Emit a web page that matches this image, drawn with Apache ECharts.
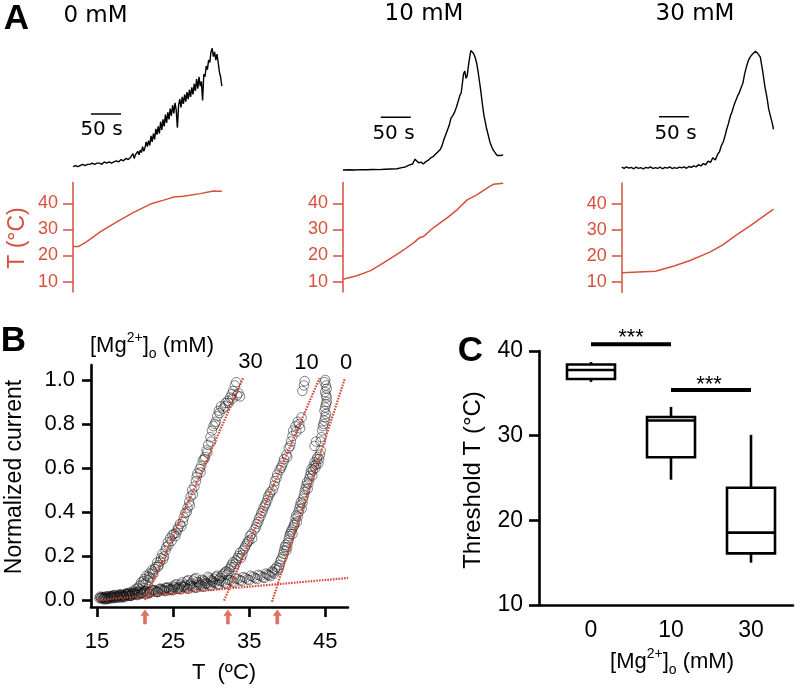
<!DOCTYPE html>
<html><head><meta charset="utf-8">
<script src="https://cdn.jsdelivr.net/npm/echarts@6/dist/echarts.min.js"></script>
<style>html,body{margin:0;padding:0;background:#fff}#c{width:800px;height:690px}</style>
</head><body><div id="c"></div>
<script>
// ---------------- DATA ----------------
// Panel A: current traces (normalized), [time s, value]
const trace0mM = [[0,0.00],[4,0.01],[8,0.00],[12,0.01],[16,0.02],[20,0.01],[24,0.02],[28,0.02],[32,0.03],[36,0.02],[40,0.03],[44,0.03],[48,0.02],[52,0.04],[56,0.03],[60,0.04],[64,0.03],[68,0.04],[72,0.05],[76,0.04],[80,0.06],[84,0.05],[88,0.07],[92,0.06],[96,0.08],[100,0.11],[102,0.07],[104,0.10],[106,0.09],[108,0.13],[110,0.10],[112,0.14],[114,0.12],[116,0.17],[118,0.13],[120,0.16],[122,0.21],[124,0.17],[126,0.22],[128,0.18],[130,0.26],[132,0.21],[134,0.28],[136,0.23],[138,0.32],[140,0.27],[142,0.34],[144,0.28],[146,0.38],[148,0.31],[150,0.40],[152,0.34],[154,0.44],[156,0.37],[158,0.46],[160,0.40],[162,0.49],[164,0.43],[166,0.52],[168,0.45],[170,0.54],[172,0.48],[174,0.33],[176,0.52],[178,0.57],[180,0.50],[182,0.59],[184,0.53],[186,0.61],[188,0.55],[190,0.63],[192,0.57],[194,0.65],[196,0.59],[198,0.67],[200,0.61],[202,0.70],[204,0.64],[206,0.74],[208,0.66],[210,0.76],[212,0.68],[214,0.72],[216,0.56],[218,0.78],[220,0.76],[222,0.85],[224,0.82],[226,0.90],[228,0.88],[230,0.97],[232,1.00],[234,0.93],[236,0.97],[238,0.90],[240,0.95],[242,0.88],[244,0.80],[246,0.76],[248,0.68]];
const trace10mM = [[0,0.0],[10,0.002],[20,0.0],[30,0.003],[40,0.002],[50,0.004],[60,0.003],[70,0.006],[80,0.008],[90,0.01],[98,0.02],[104,0.025],[110,0.04],[116,0.05],[120,0.09],[123,0.10],[126,0.06],[130,0.065],[134,0.05],[138,0.07],[142,0.08],[146,0.10],[150,0.11],[154,0.13],[158,0.15],[162,0.17],[165,0.20],[168,0.25],[171,0.29],[174,0.33],[177,0.37],[180,0.43],[183,0.45],[186,0.48],[189,0.52],[192,0.57],[195,0.62],[197,0.64],[199,0.72],[201,0.80],[203,0.82],[205,0.76],[207,0.78],[209,0.86],[211,0.93],[213,0.99],[215,1.00],[217,0.97],[219,0.95],[221,0.92],[223,0.88],[225,0.82],[227,0.75],[229,0.68],[231,0.60],[233,0.52],[235,0.45],[237,0.40],[239,0.35],[242,0.29],[245,0.23],[248,0.19],[251,0.16],[254,0.14],[257,0.12],[260,0.115],[263,0.12],[267,0.125]];
const trace30mM = [[0,0.01],[4,0.0],[8,0.012],[12,0.002],[16,0.008],[20,-0.004],[24,0.01],[28,0.0],[32,0.006],[36,-0.006],[40,0.008],[44,0.002],[48,0.012],[52,-0.002],[56,0.006],[60,0.0],[64,0.01],[68,-0.004],[72,0.008],[76,0.002],[80,0.012],[84,-0.002],[88,0.006],[92,0.0],[96,0.01],[100,0.004],[104,0.012],[108,0.0],[112,0.015],[116,0.008],[120,0.02],[124,0.012],[128,0.03],[132,0.02],[136,0.04],[140,0.03],[144,0.06],[148,0.05],[152,0.09],[156,0.07],[160,0.12],[163,0.14],[166,0.19],[169,0.22],[172,0.27],[175,0.33],[178,0.38],[181,0.44],[184,0.48],[187,0.53],[190,0.57],[193,0.61],[196,0.64],[199,0.68],[202,0.72],[205,0.80],[208,0.86],[211,0.91],[214,0.94],[217,0.96],[220,0.97],[223,0.99],[225,1.00],[227,0.97],[229,0.98],[231,0.94],[233,0.88],[235,0.82],[237,0.75],[239,0.68],[241,0.63],[243,0.57],[245,0.50],[247,0.46],[249,0.42],[251,0.38],[253,0.33]];
// Panel A: temperature traces, [time s, °C]
const temp0mM = [[0,23.4],[9,23.4],[23,25.3],[46,29.1],[73,32.9],[101,36.5],[129,39.7],[157,41.6],[168,42.4],[184,42.7],[212,43.7],[234,44.7],[240,44.6],[248,44.6]];
const temp10mM = [[0,10.9],[23,12.2],[46,14.2],[62,16.4],[84,19.6],[101,22.1],[118,24.9],[129,27.0],[134,27.2],[151,30.7],[173,34.3],[190,37.5],[207,41.3],[223,43.2],[240,45.8],[251,47.3],[267,47.7]];
const temp30mM = [[0,13.6],[56,14.2],[86,16.1],[114,18.3],[147,21.5],[169,24.4],[192,28.2],[214,31.6],[236,35.2],[253,38.0]];
const panelTitles = ['0 mM','10 mM','30 mM'];
const timeMax = [248, 267, 253];
const scaleBarStart = [30, 63, 62];   // s, 50 s bars
const scaleBarLevel = [0.445, 0.437, 0.436];
const tempTicks = [10, 20, 30, 40];

// Panel B: normalized current vs T, [°C, value]
const pts30 = [[15.3,0.008],[15.6,0.012],[15.8,0.004],[16.1,0.010],[16.4,0.016],[16.6,0.006],[16.9,0.014],[17.2,0.020],[17.4,0.011],[17.7,0.018],[18.0,0.026],[18.2,0.015],[18.5,0.022],[18.8,0.030],[19.0,0.019],[19.3,0.034],[19.6,0.028],[19.8,0.042],[20.1,0.050],[20.3,0.038],[20.6,0.065],[20.8,0.080],[21.0,0.070],[21.2,0.095],[21.5,0.110],[21.7,0.090],[21.9,0.120],[22.2,0.135],[22.4,0.118],[22.7,0.150],[22.9,0.170],[23.1,0.158],[23.4,0.190],[23.6,0.210],[23.8,0.198],[24.1,0.240],[24.3,0.262],[24.6,0.280],[24.8,0.268],[25.1,0.300],[25.3,0.290],[25.6,0.320],[25.9,0.345],[26.1,0.335],[26.4,0.375],[26.6,0.395],[26.9,0.420],[27.1,0.445],[27.3,0.470],[27.5,0.500],[27.8,0.515],[28.0,0.540],[28.2,0.575],[28.5,0.595],[28.7,0.610],[28.9,0.635],[29.2,0.650],[29.4,0.680],[29.6,0.705],[29.9,0.740],[30.1,0.770],[30.3,0.790],[30.6,0.810],[30.8,0.835],[31.0,0.860],[31.3,0.880],[31.6,0.870],[31.9,0.895],[32.2,0.905],[32.5,0.920],[32.7,0.935],[32.9,0.950],[33.1,0.975],[33.3,0.990],[33.6,0.940],[33.8,0.925],
  [15.4,0.015],[15.9,0.010],[16.2,0.003],[16.8,0.012],[17.1,0.008],[17.6,0.016],[17.9,0.010],[18.3,0.020],[18.6,0.012],[18.9,0.024],[19.2,0.030],[19.5,0.020],[19.9,0.035],[20.4,0.055],[20.7,0.048],[21.1,0.085],[21.4,0.075],[21.8,0.105],[22.0,0.100],[22.3,0.125],[22.6,0.140],[23.0,0.150],[23.3,0.175],[23.7,0.185],[24.0,0.225],[24.4,0.250],[24.9,0.295],[25.4,0.305],[25.7,0.330],[26.3,0.355],[26.8,0.400],[27.2,0.430],[27.6,0.480],[28.1,0.560],[28.6,0.580],[29.1,0.640],[29.5,0.670],[30.0,0.720],[30.5,0.800],[31.1,0.850],[31.8,0.880],[32.3,0.895],[32.8,0.915],[33.4,0.930]];
const pts10 = [[16.0,0.012],[16.5,0.008],[17.0,0.018],[17.5,0.014],[18.0,0.022],[18.5,0.017],[19.0,0.025],[19.5,0.020],[20.0,0.030],[20.5,0.026],[21.0,0.034],[21.5,0.028],[22.0,0.038],[22.5,0.045],[23.0,0.036],[23.5,0.048],[24.0,0.055],[24.5,0.044],[25.0,0.060],[25.4,0.072],[25.8,0.058],[26.2,0.080],[26.6,0.068],[27.0,0.090],[27.4,0.075],[27.8,0.095],[28.2,0.082],[28.6,0.070],[29.0,0.088],[29.4,0.076],[29.8,0.098],[30.2,0.085],[30.6,0.105],[31.0,0.092],[31.4,0.110],[31.8,0.125],[32.1,0.115],[32.4,0.140],[32.7,0.160],[33.0,0.150],[33.3,0.180],[33.6,0.200],[33.9,0.190],[34.2,0.225],[34.5,0.245],[34.8,0.265],[35.1,0.290],[35.4,0.280],[35.7,0.320],[36.0,0.345],[36.3,0.370],[36.6,0.395],[36.9,0.420],[37.2,0.440],[37.5,0.470],[37.8,0.490],[38.1,0.500],[38.4,0.540],[38.7,0.570],[39.0,0.590],[39.3,0.610],[39.6,0.640],[39.9,0.660],[40.2,0.690],[40.5,0.720],[40.8,0.770],[41.1,0.790],[41.4,0.810],[41.7,0.780],[41.9,0.830],[42.0,0.950],[42.2,0.975],[42.3,0.995],
  [16.3,0.006],[16.8,0.015],[17.3,0.010],[17.8,0.020],[18.3,0.012],[18.8,0.026],[19.3,0.018],[19.8,0.028],[20.3,0.022],[20.8,0.032],[21.3,0.040],[21.8,0.030],[22.3,0.044],[22.8,0.038],[23.3,0.052],[23.8,0.046],[24.3,0.058],[24.8,0.050],[25.2,0.066],[25.6,0.052],[26.0,0.070],[26.4,0.062],[26.8,0.085],[27.2,0.070],[27.6,0.088],[28.0,0.100],[28.4,0.078],[28.8,0.092],[29.2,0.084],[29.6,0.105],[30.0,0.090],[30.4,0.096],[30.8,0.110],[31.2,0.100],[31.6,0.118],[32.0,0.130],[32.3,0.125],[32.6,0.150],[32.9,0.172],[33.2,0.165],[33.5,0.190],[33.8,0.215],[34.1,0.205],[34.4,0.235],[34.7,0.255],[35.0,0.270],[35.3,0.300],[35.9,0.330],[36.2,0.355],[36.5,0.380],[36.8,0.405],[37.1,0.430],[37.4,0.455],[37.7,0.480],[38.3,0.520],[38.6,0.555],[39.2,0.600],[39.5,0.625],[40.0,0.650],[40.4,0.700],[40.7,0.745],[41.2,0.765],[41.6,0.800]];
const pts0 = [[15.5,0.008],[15.8,0.014],[16.1,0.005],[16.4,0.012],[16.7,0.018],[17.0,0.010],[17.4,0.020],[17.8,0.015],[18.2,0.024],[18.6,0.018],[19.0,0.028],[19.4,0.022],[19.8,0.032],[20.2,0.026],[20.6,0.036],[21.0,0.030],[21.5,0.040],[22.0,0.034],[22.5,0.042],[23.0,0.038],[23.5,0.046],[24.0,0.040],[24.5,0.050],[25.0,0.044],[25.5,0.052],[26.0,0.048],[26.5,0.058],[27.0,0.050],[27.5,0.062],[28.0,0.055],[28.5,0.066],[29.0,0.060],[29.5,0.072],[30.0,0.064],[30.5,0.078],[31.0,0.070],[31.5,0.084],[32.0,0.074],[32.5,0.090],[33.0,0.080],[33.5,0.096],[34.0,0.086],[34.5,0.100],[35.0,0.090],[35.5,0.105],[36.0,0.095],[36.5,0.110],[37.0,0.100],[37.4,0.115],[37.8,0.108],[38.1,0.125],[38.4,0.140],[38.7,0.135],[39.0,0.160],[39.2,0.185],[39.5,0.210],[39.7,0.240],[39.9,0.225],[40.1,0.260],[40.3,0.290],[40.5,0.310],[40.7,0.300],[40.9,0.340],[41.1,0.370],[41.3,0.355],[41.5,0.400],[41.7,0.430],[41.9,0.415],[42.1,0.460],[42.3,0.490],[42.5,0.520],[42.7,0.505],[42.9,0.550],[43.1,0.580],[43.3,0.565],[43.5,0.610],[43.7,0.600],[43.9,0.640],[44.1,0.620],[44.3,0.660],[43.6,0.700],[44.4,0.720],[44.6,0.770],[44.8,0.800],[45.0,0.830],[44.9,0.860],[45.1,0.890],[45.2,0.920],[45.0,0.945],[45.1,0.975],[45.0,1.000],
  [15.6,0.010],[15.9,0.004],[16.2,0.016],[16.6,0.008],[16.9,0.014],[17.2,0.022],[17.6,0.012],[18.0,0.020],[18.4,0.016],[18.8,0.026],[19.2,0.020],[19.6,0.030],[20.0,0.024],[20.4,0.034],[20.8,0.028],[21.2,0.038],[21.8,0.032],[22.2,0.044],[22.8,0.036],[23.2,0.048],[23.8,0.042],[24.2,0.054],[24.8,0.046],[25.2,0.056],[25.8,0.050],[26.2,0.060],[26.8,0.054],[27.2,0.064],[27.8,0.058],[28.2,0.068],[28.8,0.062],[29.2,0.074],[29.8,0.068],[30.2,0.080],[30.8,0.072],[31.2,0.086],[31.8,0.078],[32.2,0.092],[32.8,0.084],[33.2,0.098],[33.8,0.090],[34.2,0.104],[34.8,0.094],[35.2,0.110],[35.8,0.100],[36.2,0.114],[36.8,0.104],[37.2,0.120],[37.6,0.112],[38.0,0.130],[38.3,0.120],[38.6,0.150],[38.9,0.145],[39.1,0.175],[39.4,0.195],[39.6,0.225],[39.8,0.250],[40.0,0.240],[40.2,0.275],[40.4,0.300],[40.6,0.320],[40.8,0.330],[41.0,0.350],[41.2,0.385],[41.4,0.380],[41.6,0.415],[41.8,0.445],[42.0,0.440],[42.2,0.475],[42.4,0.505],[42.6,0.535],[42.8,0.530],[43.0,0.565],[43.2,0.595],[43.4,0.590],[43.6,0.625],[43.8,0.615],[44.0,0.650],[44.2,0.640],[44.4,0.680],[43.8,0.720],[44.5,0.740],[44.7,0.790],[44.9,0.815],[45.1,0.845],[45.0,0.875],[45.2,0.900],[45.1,0.930],[45.2,0.960],[44.9,0.990]];
const fit30 = [[21.3,0.0],[34.2,1.008]];
const fit10 = [[31.7,-0.003],[44.25,1.008]];
const fit0 = [[38.0,-0.008],[47.6,1.008]];
const fitBase = [[15.2,0.0],[48.0,0.10]];
const thresholdArrows = [21.3, 32.2, 38.7];
const bTicksX = [15, 25, 35, 45];
const bTicksY = [0, 0.2, 0.4, 0.6, 0.8, 1.0];
const bSeriesLabels = ['30', '10', '0'];

// Panel C: box plots of threshold T
const boxCats = ['0', '10', '30'];
const boxMin = [36.35, 24.8, 15.0];
const boxQ1 = [36.7, 27.45, 16.1];
const boxMed = [37.76, 31.8, 18.55];
const boxQ3 = [38.4, 32.2, 23.85];
const boxMax = [38.7, 33.4, 30.1];
const sigBars = [[0, 1, 40.8], [1, 2, 35.4]];
const cTicksY = [10, 20, 30, 40];

// ---------------- STYLE / LAYOUT ----------------
const FONT = '"Liberation Sans", Arial, Helvetica, sans-serif';
const FONTV = '"DejaVu Sans", Verdana, sans-serif';
const RED = '#d6503c';
const FITRED = 'rgba(214,62,48,0.95)';

const chart = echarts.init(document.getElementById('c'), null, {renderer: 'canvas'});

const grid = [
  {left: 73, top: 48.3, width: 148.8, height: 118.4},
  {left: 73, top: 182.4, width: 148.8, height: 109.6},
  {left: 343, top: 49.3, width: 160.2, height: 120.7},
  {left: 343, top: 182.4, width: 160.2, height: 109.6},
  {left: 621.7, top: 50, width: 151.8, height: 118.3},
  {left: 621.7, top: 183, width: 151.8, height: 109.6},
  {left: 91, top: 365, width: 257, height: 242},
  {left: 539, top: 351, width: 254, height: 254}
];

const xAxis = [], yAxis = [];
for (let i = 0; i < 3; i++) {
  for (let k = 0; k < 2; k++) {
    xAxis.push({type: 'value', gridIndex: 2 * i + k, min: 0, max: timeMax[i], show: false});
  }
  yAxis.push({type: 'value', gridIndex: 2 * i, min: 0, max: 1, show: false});
  yAxis.push({
    type: 'value', gridIndex: 2 * i + 1, min: 6, max: 48,
    axisLine: {show: true, onZero: false, lineStyle: {color: RED, width: 1.5}},
    axisTick: {show: true, length: 10, lineStyle: {color: RED, width: 1.5}, customValues: tempTicks},
    axisLabel: {show: true, color: RED, fontFamily: FONT, fontSize: 18, margin: 15, customValues: tempTicks},
    splitLine: {show: false}
  });
}
// Panel B axes (index 6)
xAxis.push({
  type: 'value', gridIndex: 6, min: 14.2, max: 48,
  axisLine: {show: true, onZero: false, lineStyle: {color: '#000', width: 2.6}},
  axisTick: {show: true, length: 10, lineStyle: {color: '#000', width: 2.6}, customValues: bTicksX},
  axisLabel: {color: '#000', fontFamily: FONT, fontSize: 22, margin: 24, customValues: bTicksX},
  splitLine: {show: false}
});
yAxis.push({
  type: 'value', gridIndex: 6, min: -0.032, max: 1.068,
  axisLine: {show: true, onZero: false, lineStyle: {color: '#000', width: 2.6}},
  axisTick: {show: true, length: 9, lineStyle: {color: '#000', width: 2.6}, customValues: bTicksY},
  axisLabel: {color: '#000', fontFamily: FONT, fontSize: 22, margin: 16, customValues: bTicksY, formatter: v => v.toFixed(1)},
  splitLine: {show: false}
});
// Panel C axes (index 7)
xAxis.push({
  type: 'value', gridIndex: 7, min: -0.65, max: 2.525,
  axisLine: {show: true, onZero: false, lineStyle: {color: '#000', width: 2.6}},
  axisTick: {show: false},
  axisLabel: {color: '#000', fontFamily: FONT, fontSize: 23, margin: 14, customValues: [0, 1, 2], formatter: v => boxCats[Math.round(v)]},
  splitLine: {show: false}
});
yAxis.push({
  type: 'value', gridIndex: 7, min: 10, max: 40,
  axisLine: {show: true, onZero: false, lineStyle: {color: '#000', width: 2.6}},
  axisTick: {show: true, length: 10, lineStyle: {color: '#000', width: 2.6}, customValues: cTicksY},
  axisLabel: {color: '#000', fontFamily: FONT, fontSize: 23, margin: 16, customValues: cTicksY},
  splitLine: {show: false}
});

const series = [];
const lineBase = {type: 'line', symbol: 'none', showSymbol: false, animation: false, clip: false, silent: true};
const traces = [trace0mM, trace10mM, trace30mM];
const temps = [temp0mM, temp10mM, temp30mM];
for (let i = 0; i < 3; i++) {
  series.push(Object.assign({}, lineBase, {xAxisIndex: 2 * i, yAxisIndex: 2 * i, data: traces[i], lineStyle: {color: '#000', width: 1.4}}));
  series.push(Object.assign({}, lineBase, {xAxisIndex: 2 * i, yAxisIndex: 2 * i,
    data: [[scaleBarStart[i], scaleBarLevel[i]], [scaleBarStart[i] + 50, scaleBarLevel[i]]], lineStyle: {color: '#000', width: 1.5}}));
  series.push(Object.assign({}, lineBase, {xAxisIndex: 2 * i + 1, yAxisIndex: 2 * i + 1, data: temps[i], lineStyle: {color: RED, width: 1.5}}));
}
// Panel B scatter
const circleStyle = {color: 'rgba(0,0,0,0)', borderColor: 'rgba(20,20,20,0.66)', borderWidth: 1};
[pts30, pts10, pts0].forEach(d => {
  series.push({type: 'scatter', xAxisIndex: 6, yAxisIndex: 6, data: d, symbol: 'circle', symbolSize: 9.5,
    itemStyle: circleStyle, animation: false, silent: true, clip: false, z: 2, large: false});
});
[fitBase, fit30, fit10, fit0].forEach(d => {
  series.push(Object.assign({}, lineBase, {xAxisIndex: 6, yAxisIndex: 6, data: d, z: 3,
    lineStyle: {color: FITRED, width: 2.2, type: [1.6, 1.2]}}));
});
series.push({type: 'scatter', xAxisIndex: 6, yAxisIndex: 6, z: 4, animation: false, silent: true, clip: false,
  data: thresholdArrows.map(t => [t, -0.032]),
  symbol: 'path://M5,0 L10,8 L6.8,8 L6.8,20 L3.2,20 L3.2,8 L0,8 Z', symbolSize: [8, 14], symbolOffset: [0, 10],
  itemStyle: {color: RED, borderColor: RED, borderWidth: 0.6}});
// Panel C boxes
series.push({
  type: 'custom', xAxisIndex: 7, yAxisIndex: 7, animation: false, silent: true, clip: false,
  dimensions: ['pos', 'min', 'q1', 'med', 'q3', 'max'],
  encode: {x: 0, y: [1, 2, 3, 4, 5]},
  data: boxCats.map((c, i) => [i, boxMin[i], boxQ1[i], boxMed[i], boxQ3[i], boxMax[i]]),
  renderItem: function (params, api) {
    const x = api.value(0);
    const pMin = api.coord([x, api.value(1)]);
    const pQ1 = api.coord([x, api.value(2)]);
    const pMed = api.coord([x, api.value(3)]);
    const pQ3 = api.coord([x, api.value(4)]);
    const pMax = api.coord([x, api.value(5)]);
    const half = api.size([0.6, 0])[0] / 2;
    const st = {stroke: '#000', lineWidth: 2.6, fill: '#fff'};
    return {type: 'group', children: [
      {type: 'line', shape: {x1: pMax[0], y1: pMax[1], x2: pQ3[0], y2: pQ3[1]}, style: st},
      {type: 'line', shape: {x1: pQ1[0], y1: pQ1[1], x2: pMin[0], y2: pMin[1]}, style: st},
      {type: 'rect', shape: {x: pQ3[0] - half, y: pQ3[1], width: half * 2, height: pQ1[1] - pQ3[1]}, style: st},
      {type: 'line', shape: {x1: pMed[0] - half, y1: pMed[1], x2: pMed[0] + half, y2: pMed[1]}, style: st}
    ]};
  }
});
sigBars.forEach(b => {
  series.push(Object.assign({}, lineBase, {xAxisIndex: 7, yAxisIndex: 7, data: [[b[0], b[2]], [b[1], b[2]]],
    lineStyle: {color: '#000', width: 4, cap: 'butt'}}));
});

// ---------------- TEXT ----------------
function txt(text, x, y, o) {
  return Object.assign({type: 'text', x: x, y: y, silent: true,
    style: Object.assign({text: text, fill: '#000', fontFamily: FONT, fontSize: 20, align: 'center', verticalAlign: 'middle'}, o || {})});
}
const mgRich = {
  b: {fontFamily: FONT, fontSize: 22, lineHeight: 30, fill: '#000'},
  sup: {fontFamily: FONT, fontSize: 14, lineHeight: 12, verticalAlign: 'top', fill: '#000'},
  sub: {fontFamily: FONT, fontSize: 14, lineHeight: 14, verticalAlign: 'bottom', fill: '#000'}
};
const mgText = '{b|[Mg}{sup|2+}{b|]}{sub|o}{b| (mM)}';
const graphic = [
  txt('A', 16.5, 19.5, {fontSize: 35, fontWeight: 'bold'}),
  txt('B', 13.5, 341.5, {fontSize: 35, fontWeight: 'bold'}),
  txt('C', 470.5, 351.5, {fontSize: 35, fontWeight: 'bold'}),
  txt(panelTitles[0], 95.5, 16, {fontFamily: FONTV, fontSize: 23}),
  txt(panelTitles[1], 424, 14, {fontFamily: FONTV, fontSize: 23}),
  txt(panelTitles[2], 695, 14, {fontFamily: FONTV, fontSize: 23}),
  txt('50 s', 101.5, 130, {fontFamily: FONTV, fontSize: 20}),
  txt('50 s', 393.5, 133.5, {fontFamily: FONTV, fontSize: 20}),
  txt('50 s', 675.5, 133.5, {fontFamily: FONTV, fontSize: 20}),
  Object.assign(txt('T (°C)', 18, 238, {fontSize: 23, fill: RED}), {rotation: Math.PI / 2}),
  Object.assign(txt('Normalized current', 15, 477, {fontSize: 23}), {rotation: Math.PI / 2}),
  txt('T  (ºC)', 224, 673, {fontSize: 22}),
  {type: 'text', x: 90, y: 346, silent: true, style: {text: mgText, rich: mgRich, align: 'left', verticalAlign: 'middle', fontFamily: FONT, fontSize: 22}},
  txt(bSeriesLabels[0], 250.5, 362, {fontSize: 22}),
  txt(bSeriesLabels[1], 306.5, 363, {fontSize: 22}),
  txt(bSeriesLabels[2], 346, 363, {fontSize: 22}),
  Object.assign(txt('Threshold T (°C)', 473, 480, {fontSize: 24}), {rotation: Math.PI / 2}),
  {type: 'text', x: 672, y: 662, silent: true, style: {text: mgText, rich: mgRich, align: 'center', verticalAlign: 'middle', fontFamily: FONT, fontSize: 22}},
  txt('***', 631, 338, {fontSize: 22}),
  txt('***', 709, 385, {fontSize: 22})
];

chart.setOption({
  animation: false,
  backgroundColor: '#fff',
  grid: grid,
  xAxis: xAxis,
  yAxis: yAxis,
  series: series,
  graphic: graphic
});
</script></body></html>
